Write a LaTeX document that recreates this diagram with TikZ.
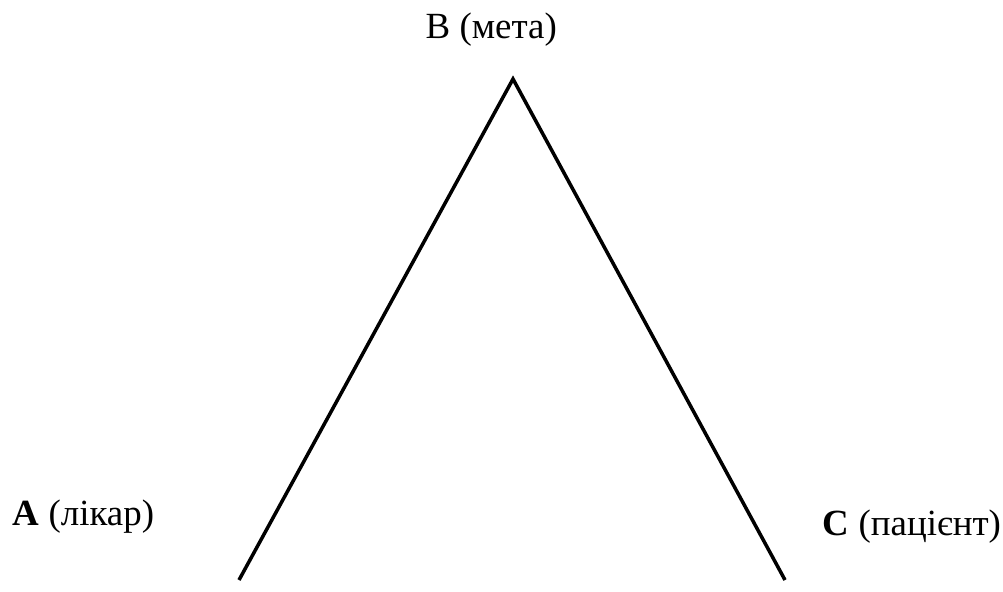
\documentclass[tikz,border=0pt]{standalone}
\usepackage{fontspec}
\setmainfont{Liberation Serif}
\usetikzlibrary{positioning}

\begin{document}
\begin{tikzpicture}[
  label/.style={inner sep=0pt, anchor=base west, font=\fontsize{10.5}{12}\selectfont},
  side/.style={line width=1pt}
]
  \useasboundingbox (0,0) rectangle (10.03,5.91);
  \coordinate (apex) at (5.13,5.12);
  \coordinate (footA) at (2.39,0.11);
  \coordinate (footC) at (7.85,0.11);

  \node[label] (goal) at (4.25,5.53) {B (мета)};
  \node[label] (doctor) at (0.12,0.66) {\textbf{A} (лікар)};
  \node[label] (patient) at (8.22,0.56) {\textbf{C} (пацієнт)};

  \draw[side] (footA) -- (apex) -- (footC);
\end{tikzpicture}
\end{document}
